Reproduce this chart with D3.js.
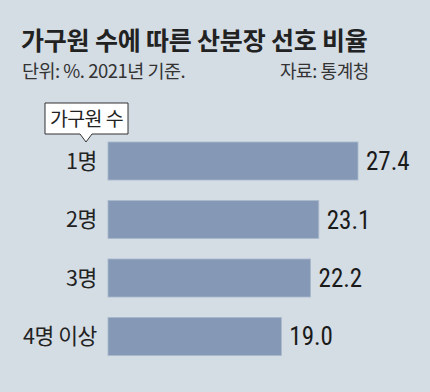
<!DOCTYPE html>
<html>
<head>
<meta charset="utf-8">
<script src="https://cdn.jsdelivr.net/npm/d3@7"></script>
<style>
	html, body { margin: 0; padding: 0; background: #d4dce4; }
	svg { display: block; font-family: "Noto Sans CJK KR", "Noto Sans", sans-serif; }
</style>
</head>
<body>
<div id="chart"></div>
<script>
"use strict";

const categories = ['1명', '2명', '3명', '4명 이상'];
const values = [27.4, 23.1, 22.2, 19.0];
const valueLabels = ['27.4', '23.1', '22.2', '19.0'];

const width = 430, height = 392;
const margin = {left: 108, top: 142};

let svg = d3.select('#chart').append('svg')
	.attr('width', width)
	.attr('height', height);

svg.append('rect')
	.attr('width', width)
	.attr('height', height)
	.attr('fill', '#d4dce4');

//---- Titles
svg.append('text')
	.attr('x', 21)
	.attr('y', 50)
	.attr('font-size', 25)
	.attr('font-weight', 700)
	.attr('fill', '#222')
	.attr('letter-spacing', -0.2)
	.text('가구원 수에 따른 산분장 선호 비율');

svg.append('text')
	.attr('x', 22)
	.attr('y', 78)
	.attr('font-size', 18.5)
	.attr('fill', '#333')
	.attr('letter-spacing', -0.5)
	.text('단위: %. 2021년 기준.');

svg.append('text')
	.attr('x', 369)
	.attr('y', 78)
	.attr('text-anchor', 'end')
	.attr('font-size', 18)
	.attr('fill', '#333')
	.attr('letter-spacing', -0.4)
	.text('자료: 통계청');

//---- Scales
let x = d3.scaleLinear()
	.domain([0, 27.4])
	.range([margin.left, 358]);

let y = d3.scaleBand()
	.domain(categories)
	.range([margin.top, 355.5])
	.paddingInner(0.35)
	.paddingOuter(0);

let rows = svg.selectAll('.row')
	.data(categories.map((c, i) => ({cat: c, value: values[i], label: valueLabels[i]})))
	.join('g')
	.classed('row', true);

rows.append('rect')
	.attr('x', x(0))
	.attr('y', d => y(d.cat))
	.attr('width', d => x(d.value) - x(0))
	.attr('height', y.bandwidth())
	.attr('fill', '#8599b6')
	.attr('stroke', '#a9b8cc')
	.attr('stroke-width', 0.8);

rows.append('text')
	.attr('x', 97)
	.attr('y', d => y(d.cat) + y.bandwidth() / 2)
	.attr('dy', '0.36em')
	.attr('text-anchor', 'end')
	.attr('font-size', 21.5)
	.attr('fill', '#222')
	.attr('letter-spacing', -0.4)
	.text(d => d.cat);

rows.append('text')
	.attr('x', d => x(d.value) + 8)
	.attr('y', d => y(d.cat) + y.bandwidth() / 2)
	.attr('dy', '0.36em')
	.attr('font-family', '"Liberation Sans Narrow", "Roboto Condensed", "Liberation Sans", sans-serif')
	.attr('font-size', 25)
	.attr('fill', '#1a1a1a')
	.text(d => d.label);

//---- Callout
let callout = svg.append('g');
callout.append('path')
	.attr('d', 'M45,103 H128 V134 H92 L86,142 L80,134 H45 Z')
	.attr('fill', '#fff')
	.attr('stroke', '#333')
	.attr('stroke-width', 1);

callout.append('text')
	.attr('x', 86.5)
	.attr('y', 119)
	.attr('dy', '0.36em')
	.attr('text-anchor', 'middle')
	.attr('font-size', 19.5)
	.attr('fill', '#222')
	.attr('letter-spacing', -0.6)
	.text('가구원 수');
</script>
</body>
</html>
